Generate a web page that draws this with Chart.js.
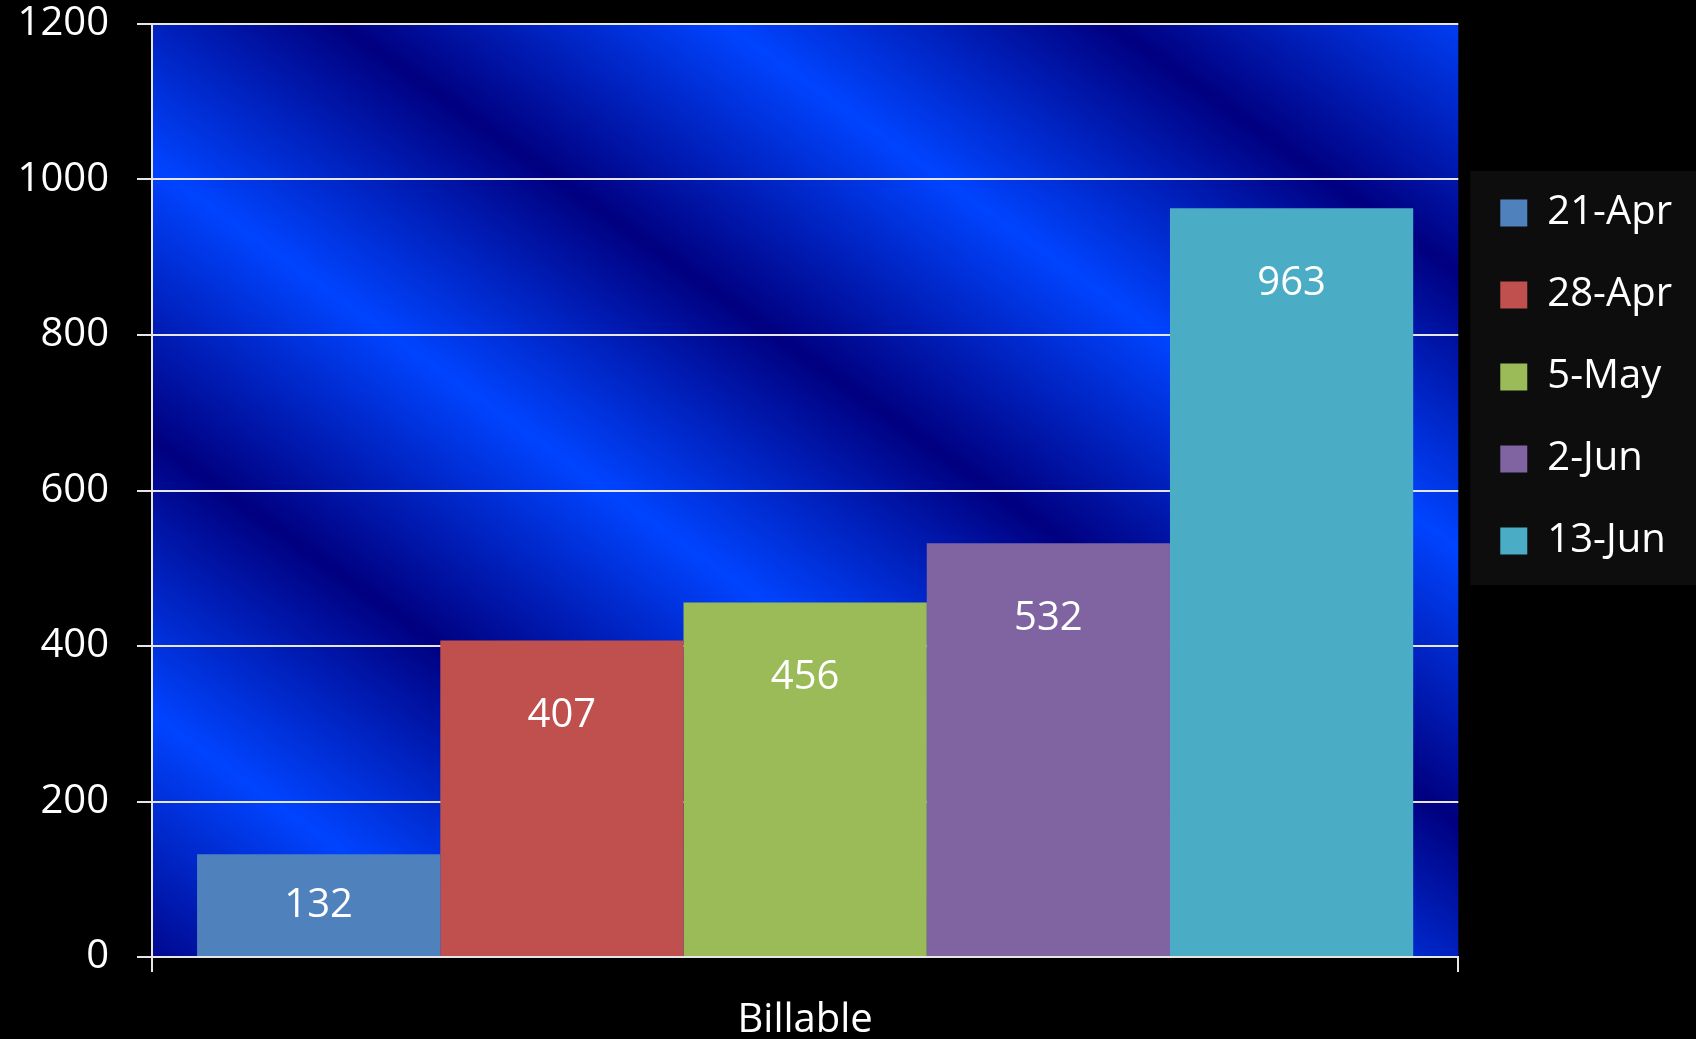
<!DOCTYPE html>
<html>
<head>
<meta charset="utf-8">
<script src="https://cdn.jsdelivr.net/npm/chart.js@4/dist/chart.umd.min.js"></script>
<style>
  html, body { margin: 0; padding: 0; background: #000; }
  #wrap { width: 1696px; height: 1039px; }
</style>
</head>
<body>
<div id="wrap"><canvas id="myChart" width="1696" height="1039"></canvas></div>
<script>
const categories = ["Billable"];
const seriesNames = ["21-Apr", "28-Apr", "5-May", "2-Jun", "13-Jun"];
const seriesValues = [132, 407, 456, 532, 963];
const seriesColors = ["#4f81bd", "#c0504d", "#9bbb59", "#8064a2", "#4bacc6"];
const yTicks = [0, 200, 400, 600, 800, 1000, 1200];

const FONT = "'Open Sans', 'Noto Sans', sans-serif";

// blue diagonal stripes behind the plot, black everywhere else
const backdrop = {
  id: "backdrop",
  beforeDraw(chart) {
    const { ctx, chartArea: a } = chart;
    ctx.save();
    ctx.fillStyle = "#000";
    ctx.fillRect(0, 0, chart.width, chart.height);

    const slope = 1.4, period = 770, brightAt = 573;
    const w = a.right - a.left, h = a.bottom - a.top;
    const qmin = -slope * h, qmax = w;
    const dark0 = brightAt - period / 2;
    const qa = dark0 + period * Math.floor((qmin - dark0) / period);
    const qb = qa + period * Math.ceil((qmax - qa) / period);
    const k = (qb - qa) / (1 + slope * slope);
    const x0 = a.left + qa, y0 = a.top;
    const g = ctx.createLinearGradient(x0, y0, x0 + k, y0 - slope * k);
    const steps = Math.round((qb - qa) / (period / 2));
    for (let i = 0; i <= steps; i++) {
      g.addColorStop(i / steps, i % 2 === 0 ? "#000080" : "#0044ff");
    }
    ctx.fillStyle = g;
    ctx.fillRect(a.left, a.top, w, h);

    // legend panel
    const boxes = chart.legend && chart.legend.legendHitBoxes;
    if (boxes && boxes.length) {
      const l = Math.min(...boxes.map((b) => b.left));
      const r = Math.max(...boxes.map((b) => b.left + b.width));
      const t = Math.min(...boxes.map((b) => b.top));
      const btm = Math.max(...boxes.map((b) => b.top + b.height));
      ctx.fillStyle = "#0d0d0d";
      ctx.fillRect(l - 30, t - 22, r - l + 54, btm - t + 46);
    }
    ctx.restore();
  },
};

// value labels inside the bars
const barLabels = {
  id: "barLabels",
  afterDatasetsDraw(chart) {
    const { ctx } = chart;
    ctx.save();
    ctx.fillStyle = "#ffffff";
    ctx.font = "40px " + FONT;
    ctx.textAlign = "center";
    ctx.textBaseline = "middle";
    chart.data.datasets.forEach((ds, i) => {
      chart.getDatasetMeta(i).data.forEach((bar, j) => {
        const hgt = bar.base - bar.y;
        ctx.fillText(String(ds.data[j]), bar.x, bar.y + Math.min(75, hgt / 2));
      });
    });
    ctx.restore();
  },
};

new Chart(document.getElementById("myChart"), {
  type: "bar",
  data: {
    labels: categories,
    datasets: seriesNames.map((name, i) => ({
      label: name,
      data: [seriesValues[i]],
      backgroundColor: seriesColors[i],
      borderWidth: 0,
      categoryPercentage: 0.931,
      barPercentage: 1,
    })),
  },
  options: {
    responsive: false,
    animation: false,
    layout: { padding: { top: 24, left: 0, bottom: 0, right: 14 } },
    plugins: {
      tooltip: { enabled: false },
      legend: {
        position: "right",
        align: "start",
        title: { display: true, text: "", font: { size: 10 }, padding: { top: 115, bottom: 0 } },
        labels: {
          color: "#ffffff",
          boxWidth: 27,
          boxHeight: 27,
          padding: 42,
          font: { family: FONT, size: 40 },
        },
      },
    },
    scales: {
      x: {
        afterFit: (scale) => { scale.height = 82; },
        border: { display: true, color: "#e6e6e6", width: 2 },
        grid: { drawOnChartArea: false, drawTicks: true, tickLength: 15, color: "#e6e6e6", lineWidth: 2 },
        ticks: { color: "#ffffff", padding: 25, font: { family: FONT, size: 40 } },
      },
      y: {
        min: 0,
        max: 1200,
        afterFit: (scale) => {
          scale.width = 152;
          scale.paddingTop = 0;
          scale.paddingBottom = 0;
        },
        afterBuildTicks: (scale) => { scale.ticks = yTicks.map((v) => ({ value: v })); },
        border: { display: true, color: "#e6e6e6", width: 2 },
        grid: { color: "#e6e6e6", lineWidth: 2, tickLength: 15 },
        ticks: {
          color: "#ffffff",
          padding: 28,
          font: { family: FONT, size: 40 },
          callback: (v) => String(v),
        },
      },
    },
  },
  plugins: [backdrop, barLabels],
});
</script>
</body>
</html>
